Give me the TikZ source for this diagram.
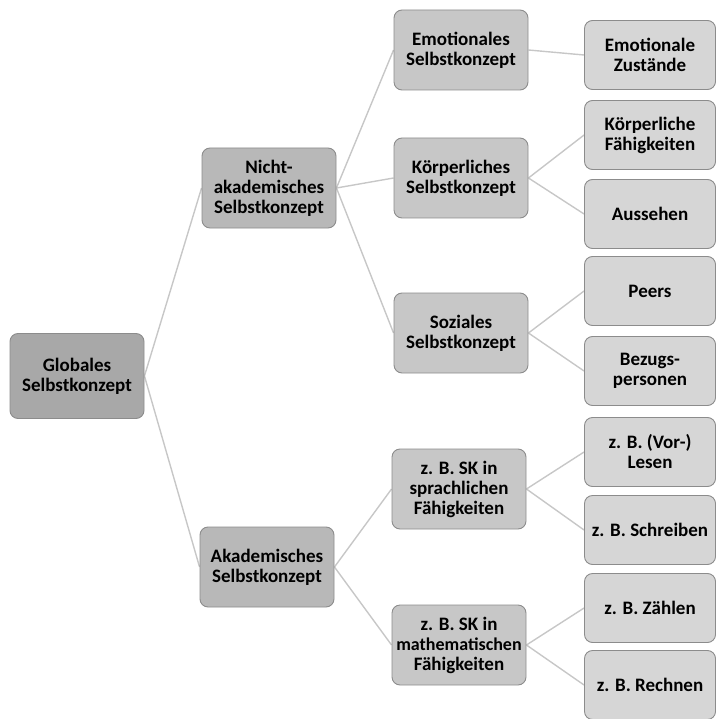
\documentclass[tikz,border=0pt]{standalone}
\usepackage{fontspec}
\setmainfont{Carlito}
\usetikzlibrary{backgrounds}
\definecolor{edgegray}{gray}{0.55}
\definecolor{branchgray}{gray}{0.78}
\definecolor{globalfill}{gray}{0.66}
\definecolor{mainfill}{gray}{0.72}
\definecolor{subfill}{gray}{0.78}
\definecolor{leaffill}{gray}{0.84}
\newcommand{\boxw}{134pt}
\newcommand{\boxh}{80pt}
\newcommand{\leafw}{131pt}
\newcommand{\leafh}{69pt}
\newcommand{\boxfont}{\bfseries\fontsize{19}{20}\selectfont}
\tikzset{
  concept/.style={draw=edgegray, line width=0.9pt, rounded corners=8pt,
    align=center, inner sep=1pt, font=\boxfont,
    minimum width=\boxw, minimum height=\boxh},
  globalbox/.style={concept, fill=globalfill, minimum height=85pt},
  mainbox/.style={concept, fill=mainfill},
  subbox/.style={concept, fill=subfill},
  leafbox/.style={concept, fill=leaffill,
    minimum width=\leafw, minimum height=\leafh},
  branch/.style={draw=branchgray, line width=1.4pt}
}

\begin{document}
\begin{tikzpicture}[x=1pt,y=-1pt]
    \useasboundingbox (0,0) rectangle (717,719);
    % root
    \node[globalbox] (global) at (77,376) {Globales\\Selbstkonzept};
    % second level
    \node[mainbox] (nichtak) at (269,188) {Nicht-\\akademisches\\Selbstkonzept};
    \node[mainbox] (akad) at (267,567) {Akademisches\\Selbstkonzept};
    % third level
    \node[subbox] (emo) at (461,50) {Emotionales\\Selbstkonzept};
    \node[subbox] (koerp) at (461,178) {Körperliches\\Selbstkonzept};
    \node[subbox] (sozial) at (461,333) {Soziales\\Selbstkonzept};
    \node[subbox] (sprach) at (459,489) {z. B. SK in\\sprachlichen\\Fähigkeiten};
    \node[subbox] (mathe) at (459,645) {z. B. SK in\\{\fontsize{18}{20}\selectfont mathematischen}\\Fähigkeiten};
    % leaves
    \node[leafbox] (zustand) at (650,55) {Emotionale\\Zustände};
    \node[leafbox] (kfaeh) at (650,135) {Körperliche\\Fähigkeiten};
    \node[leafbox] (aussehen) at (650,214) {Aussehen};
    \node[leafbox] (peers) at (650,291) {Peers};
    \node[leafbox] (bezug) at (650,371) {Bezugs-\\personen};
    \node[leafbox] (lesen) at (650,452) {z. B. (Vor-)\\Lesen};
    \node[leafbox] (schreib) at (650,530) {z. B. Schreiben};
    \node[leafbox] (zaehl) at (650,608) {z. B. Zählen};
    \node[leafbox] (rechnen) at (650,685) {z. B. Rechnen};
    % connectors
    \begin{scope}[on background layer]
      \foreach \from/\to in {global/nichtak, global/akad,
          nichtak/emo, nichtak/koerp, nichtak/sozial,
          akad/sprach, akad/mathe,
          emo/zustand, koerp/kfaeh, koerp/aussehen,
          sozial/peers, sozial/bezug,
          sprach/lesen, sprach/schreib,
          mathe/zaehl, mathe/rechnen}
        \draw[branch] (\from.east) -- (\to.west);
    \end{scope}
\end{tikzpicture}
\end{document}
